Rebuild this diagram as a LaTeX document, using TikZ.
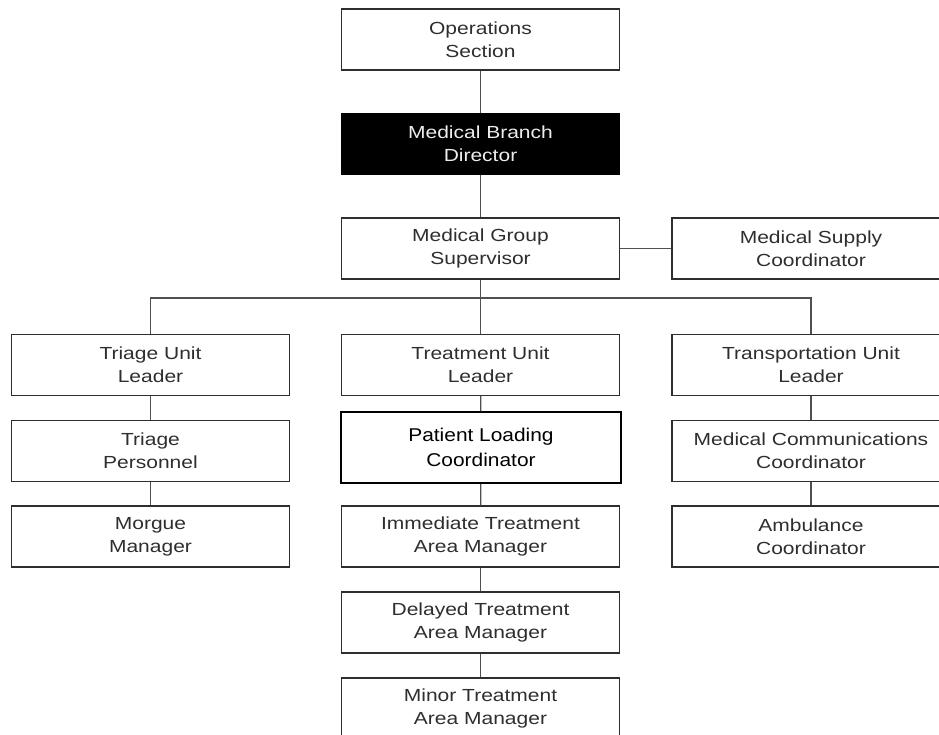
\documentclass[tikz,border=0pt]{standalone}
\usepackage{fontspec}
\setmainfont[FakeStretch=1.2]{Liberation Sans}
\newfontfamily\plfont[FakeStretch=1.13]{Liberation Sans}
\usepackage{tikz}
\usetikzlibrary{positioning}

\definecolor{boxgray}{HTML}{2E2E2E}
\definecolor{linegray}{HTML}{505050}

\begin{document}
\begin{tikzpicture}[x=1pt,y=-1pt,
	unitbox/.style={shape=rectangle,draw=boxgray,line width=1.4pt,minimum width=278pt,minimum height=61pt,align=center,inner sep=0pt,text=boxgray,font=\fontsize{17.5}{23}\selectfont},
	headbox/.style={unitbox,fill=black,draw=black,text=white!93!black},
	loadbox/.style={unitbox,draw=black,line width=1.8pt,minimum width=280pt,minimum height=71pt,text=black,font=\plfont\fontsize{18.5}{25}\selectfont},
	link/.style={-,draw=linegray,line width=1.3pt}]
			\clip (0,0) rectangle (939,734);
			\node[unitbox] (ops) at (480.5,39.5) {Operations\\Section};
			\node[headbox] (mbd) at (480.5,144) {Medical Branch\\Director};
			\node[unitbox] (mgs) at (480.5,248.5) {Medical Group\\Supervisor};
			\node[unitbox] (msc) at (811,248.5) {Medical Supply\\Coordinator};
			\path[link](ops) edge (mbd);
			\path[link](mbd) edge (mgs);
			\path[link](mgs) edge (msc);
			
			\node[unitbox] (tul) at (150.5,365) {Triage Unit\\Leader};
			\node[unitbox] (trul) at (480.5,365) {Treatment Unit\\Leader};
			\node[unitbox] (tpul) at (811,365) {Transportation Unit\\Leader};
			\coordinate (bus) at (480.5,298);
			\path[link](mgs) edge (bus);
			\draw[link](tul.north) |- (bus) -| (tpul.north);
			\path[link](bus) edge (trul);
			
			\node[unitbox] (tp) at (150.5,451) {Triage\\Personnel};
			\node[unitbox] (mm) at (150.5,536.5) {Morgue\\Manager};
			\path[link](tul) edge (tp);
			\path[link](tp) edge (mm);
			
			\node[loadbox] (plc) at (481,447.5) {Patient Loading\\Coordinator};
			\node[unitbox] (itam) at (480.5,536.5) {Immediate Treatment\\Area Manager};
			\node[unitbox] (dtam) at (480.5,622.5) {Delayed Treatment\\Area Manager};
			\node[unitbox] (mtam) at (480.5,708.5) {Minor Treatment\\Area Manager};
			\path[link](trul) edge (plc);
			\path[link](plc) edge (itam);
			\path[link](itam) edge (dtam);
			\path[link](dtam) edge (mtam);
			
			\node[unitbox] (mcc) at (811,451) {Medical Communications\\Coordinator};
			\node[unitbox] (ac) at (811,536.5) {Ambulance\\Coordinator};
			\path[link](tpul) edge (mcc);
			\path[link](mcc) edge (ac);
			\end{tikzpicture}
\end{document}
